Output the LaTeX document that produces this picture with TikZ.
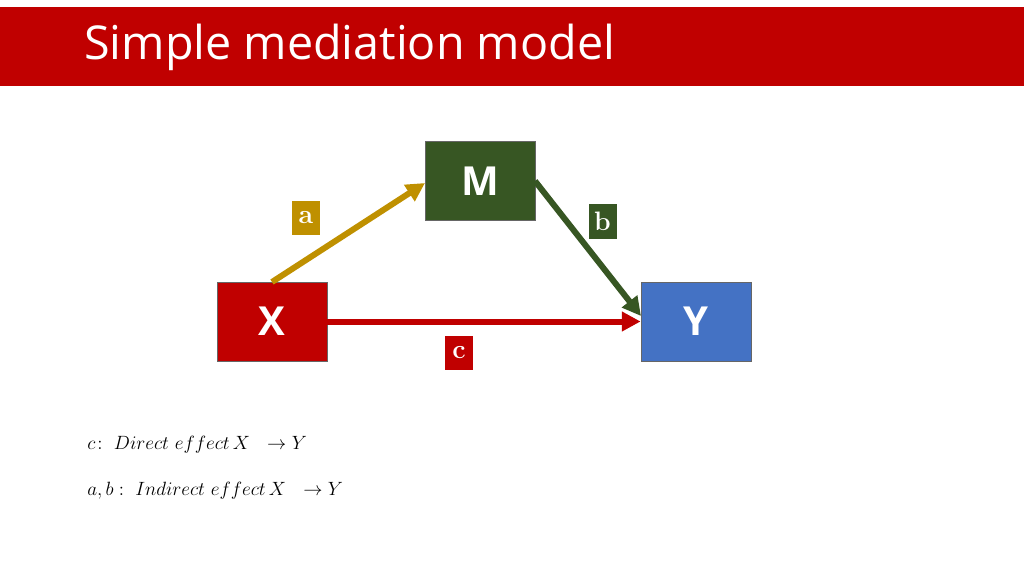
\documentclass[tikz,border=0pt]{standalone}
\usepackage{fontspec}
\setsansfont{Open Sans}
\usetikzlibrary{arrows.meta}
\definecolor{tred}{HTML}{C00000}
\definecolor{tgreen}{HTML}{375623}
\definecolor{tgold}{HTML}{BF9000}
\definecolor{tblue}{HTML}{4472C4}
\begin{document}
\begin{tikzpicture}[x=0.75pt,y=-0.75pt,
  box/.style={draw=black!60,line width=0.6pt,minimum width=82.5pt,minimum height=59.25pt,inner sep=0pt,text=white,font=\sffamily\bfseries\fontsize{30}{34}\selectfont},
  lab/.style={inner sep=0pt,minimum width=21pt,minimum height=26pt,text=white,font=\rmfamily\bfseries\fontsize{20}{22}\selectfont},
  arr/.style={line width=4.5pt,-{Triangle[length=14pt,width=14pt]}}]
\useasboundingbox (0,0) rectangle (1024,575);
\fill[tred] (0,7) rectangle (1024,86);
\node[anchor=west,text=white,font=\sffamily\fontsize{35}{40}\selectfont,inner sep=0pt] (title) at (84,47) {Simple mediation model};
\node[box,fill=tred] (X) at (272,321.5) {X};
\node[box,fill=tgreen] (M) at (480,181) {M};
\node[box,fill=tblue] (Y) at (696,321.5) {Y};
\coordinate (xa) at (272,282);
\coordinate (ma) at (425,183);
\coordinate (mb) at (535,181);
\coordinate (yb) at (641,316);
\draw[arr,tgold] (xa) -- (ma);
\draw[arr,tgreen] (mb) -- (yb);
\draw[arr,tred] (X.east) -- (Y.west);
\node[lab,fill=tgold] (la) at (306,218) {a};
\node[lab,fill=tgreen] (lb) at (602.5,221.5) {b};
\node[lab,fill=tred] (lc) at (459,353) {c};
\node[anchor=west,inner sep=0pt,font=\fontsize{13.5}{16}\selectfont] (t1) at (87,445) {$c\!:\ Direct\ effect\,X\ \ \to Y$};
\node[anchor=west,inner sep=0pt,font=\fontsize{13.5}{16}\selectfont] (t2) at (87,491) {$a,b:\ Indirect\ effect\,X\ \ \to Y$};
\end{tikzpicture}
\end{document}
